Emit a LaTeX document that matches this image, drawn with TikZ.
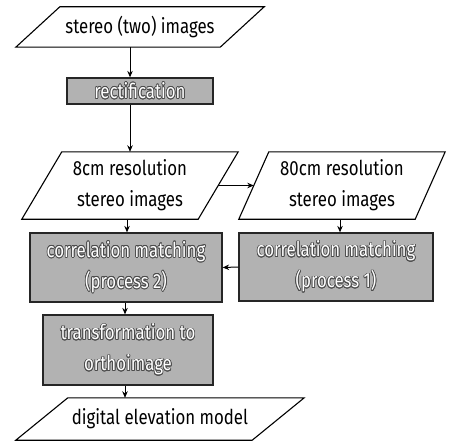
\documentclass[tikz,border=0pt]{standalone}
\usepackage{fontspec}
\setmainfont{Fira Sans}[FakeStretch=0.82]
\usepackage[copies]{contour}
\contourlength{0.7pt}
\contournumber{16}
\usetikzlibrary{arrows.meta}
\newcommand\drawpara[2]{\draw[paraline] ([xshift=#2]#1.north west) -- ([xshift=#2]#1.north east) -- ([xshift=-#2]#1.south east) -- ([xshift=-#2]#1.south west) -- cycle;}
\newcommand\ol[1]{\contour{black!70}{#1}}
\begin{document}
\begin{tikzpicture}[x=1pt,y=-1pt,
  txt/.style={inner sep=0pt, align=center, font=\fontsize{20.5}{31}\selectfont},
  paraline/.style={draw=black, line width=1.1pt},
  proc/.style={txt, draw=black!85, line width=1.3pt, fill=black!30, text=white},
  arr/.style={-{Stealth[length=6.5pt,width=5.5pt]}, line width=1pt}]
\useasboundingbox (0,0) rectangle (452,441);
% inputs / outputs
\node[txt, minimum width=204pt, minimum height=40pt] (src) at (140,27) {stereo (two) images};
\drawpara{src}{22pt}
\node[txt, minimum width=176pt, minimum height=67pt] (hi) at (130,185.5) {8cm resolution\\stereo images};
\drawpara{hi}{20pt}
\node[txt, minimum width=176pt, minimum height=67pt] (lo) at (342,185.5) {80cm resolution\\stereo images};
\drawpara{lo}{15pt}
\node[txt, minimum width=236pt, minimum height=42pt] (dem) at (160,419) {digital elevation model};
\drawpara{dem}{26pt}
% processes
\node[proc, minimum width=146pt, minimum height=26pt] (rect) at (140,91) {\ol{rectification}};
\node[proc, minimum width=192pt, minimum height=69pt] (cm2) at (126,267.5) {\ol{correlation matching}\\\ol{(process 2)}};
\node[proc, minimum width=194pt, minimum height=68pt] (cm1) at (336,267) {\ol{correlation matching}\\\ol{(process 1)}};
\node[proc, minimum width=170pt, minimum height=70pt] (ortho) at (128,350) {\ol{transformation to}\\\ol{orthoimage}};
% connectors
\draw[arr] ([xshift=-10pt]src.south) -- ([xshift=-10pt]rect.north);
\draw[arr] ([xshift=-10pt]rect.south) -- (hi.north);
\draw[arr] (hi.east) -- (lo.west);
\draw[arr] ([xshift=-3pt]hi.south) -- ([xshift=1pt]cm2.north);
\draw[arr] ([xshift=-2pt]lo.south) -- ([xshift=4pt]cm1.north);
\draw[arr] (cm1.west) -- (cm2.east);
\draw[arr] ([xshift=-1pt]cm2.south) -- ([xshift=-3pt]ortho.north);
\draw[arr] ([xshift=-3pt]ortho.south) -- ([xshift=-35pt]dem.north);
\end{tikzpicture}
\end{document}
